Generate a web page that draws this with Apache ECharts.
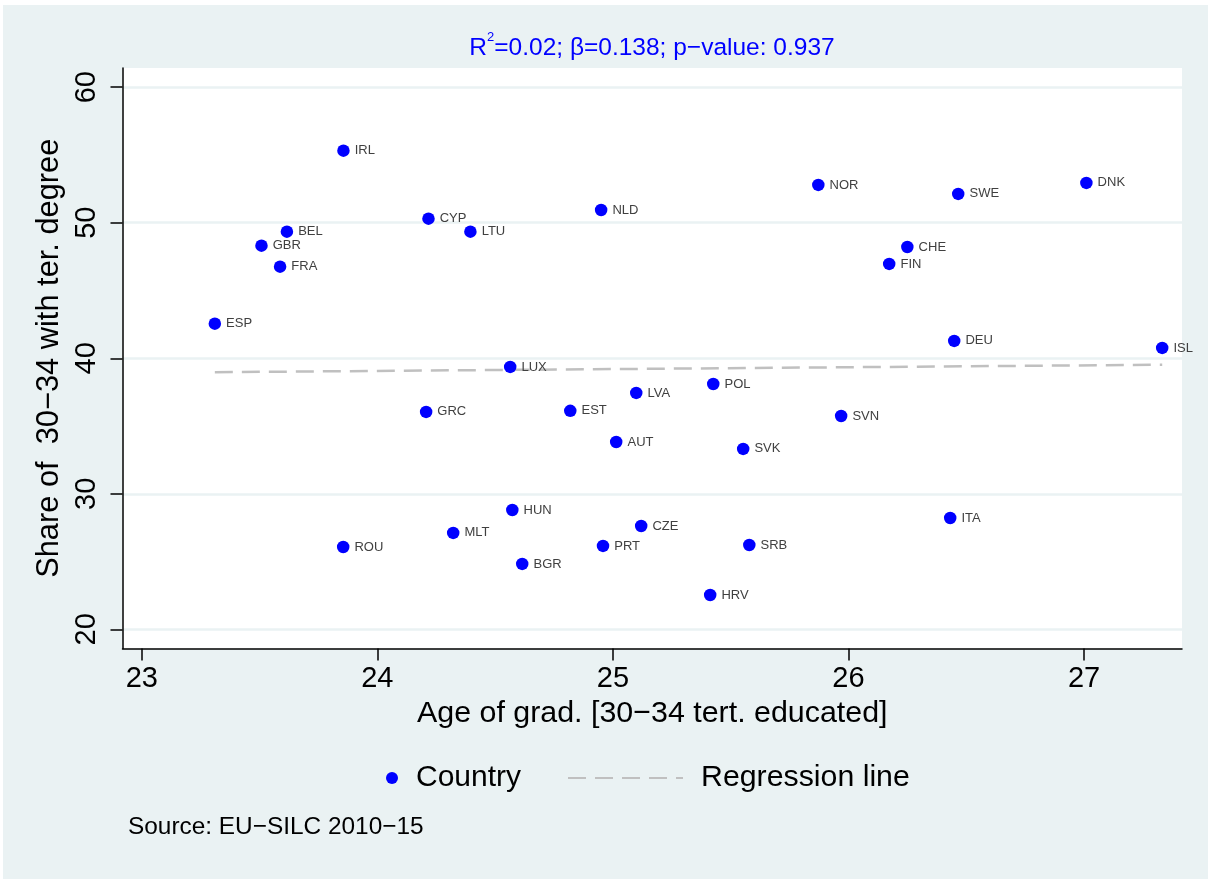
<!DOCTYPE html>
<html>
<head>
<meta charset="utf-8">
<script src="https://cdn.jsdelivr.net/npm/echarts@6/dist/echarts.min.js"></script>
<style>
  html, body { margin: 0; padding: 0; background: #ffffff; }
  #chart { width: 1211px; height: 883px; }
</style>
</head>
<body>
<div id="chart"></div>
<script>
// ---- Data ----
const countries = ['IRL','BEL','GBR','FRA','ESP','CYP','LTU','NLD','NOR','SWE','DNK','CHE','FIN','DEU','ISL','LUX','POL','LVA','GRC','EST','SVN','AUT','SVK','HUN','ITA','CZE','MLT','ROU','PRT','SRB','BGR','HRV'];
const ageGrad = [23.856,23.616,23.508,23.587,23.310,24.217,24.395,24.950,25.872,26.466,27.010,26.250,26.173,26.449,27.332,24.564,25.426,25.099,24.207,24.819,25.969,25.014,25.553,24.573,26.432,25.120,24.322,23.855,24.958,25.579,24.615,25.413];
const shareTert = [55.32,49.34,48.31,46.76,42.55,50.30,49.34,50.94,52.79,52.13,52.94,48.21,46.96,41.28,40.76,39.36,38.10,37.44,36.04,36.12,35.74,33.82,33.31,28.80,28.21,27.62,27.11,26.07,26.15,26.22,24.82,22.53];
const regX = [23.310, 27.332];
const regY = [38.97, 39.52];
const xTicks = [23, 24, 25, 26, 27];
const yTicks = [20, 30, 40, 50, 60];

const FONT = '"Liberation Sans", Arial, Helvetica, sans-serif';
const BG = '#eaf2f3';

const scatterData = countries.map((c, i) => ({ name: c, value: [ageGrad[i], shareTert[i]] }));
const regData = regX.map((x, i) => [x, regY[i]]);

const chart = echarts.init(document.getElementById('chart'), null, { renderer: 'canvas' });
chart.setOption({
  animation: false,
  backgroundColor: '#ffffff',
  textStyle: { fontFamily: FONT },
  graphic: [{
    type: 'rect', z: -100, zlevel: 0, silent: true,
    shape: { x: 3, y: 5, width: 1205, height: 874 },
    style: { fill: BG }
  }],
  title: [{
    left: 652, top: 31, textAlign: 'center', padding: 0,
    text: '{a|R}{s|2}{a|=0.02; β=0.138; p−value: 0.937}',
    textStyle: {
      fontWeight: 'normal',
      rich: {
        a: { fontSize: 24.5, fontWeight: 'normal', color: '#0000ff', fontFamily: FONT, lineHeight: 30, verticalAlign: 'bottom' },
        s: { fontSize: 13, fontWeight: 'normal', color: '#0000ff', fontFamily: FONT, verticalAlign: 'top', lineHeight: 14 }
      }
    }
  }, {
    left: 128, top: 815, padding: 0,
    text: 'Source: EU−SILC 2010−15',
    textStyle: { fontSize: 24.4, fontWeight: 'normal', color: '#000000', fontFamily: FONT }
  }],
  legend: [{
    left: 386, top: 763, padding: 0,
    data: [{ name: 'Country', icon: 'circle' }],
    itemWidth: 12, itemHeight: 12,
    textStyle: { fontSize: 30, color: '#000000', fontFamily: FONT, padding: [0, 0, 0, 13] }
  }, {
    left: 567, top: 763, padding: 0,
    data: [{ name: 'Regression line', itemStyle: { opacity: 0 } }],
    itemWidth: 115, itemHeight: 12,
    textStyle: { fontSize: 30.3, color: '#000000', fontFamily: FONT, padding: [0, 0, 0, 13] }
  }],
  grid: {
    left: 122.5, top: 68, width: 1059.5, height: 580.5,
    show: true, backgroundColor: '#ffffff', borderWidth: 0
  },
  xAxis: {
    type: 'value', min: 22.918, max: 27.416,
    name: 'Age of grad. [30−34 tert. educated]',
    nameLocation: 'middle', nameGap: 48,
    nameTextStyle: { fontSize: 30.4, color: '#000000', fontFamily: FONT },
    axisLine: { show: true, onZero: false, lineStyle: { color: '#000000', width: 1.5 } },
    axisTick: { show: true, length: 12, inside: false, customValues: xTicks, lineStyle: { color: '#000000', width: 1.5 } },
    axisLabel: { customValues: xTicks, fontSize: 29, color: '#000000', margin: 16, fontFamily: FONT },
    splitLine: { show: false }
  },
  yAxis: {
    type: 'value', min: 18.58, max: 61.42,
    name: 'Share of  30−34 with ter. degree',
    nameLocation: 'middle', nameGap: 56, nameRotate: 90,
    nameTextStyle: { fontSize: 30.8, color: '#000000', fontFamily: FONT },
    axisLine: { show: true, onZero: false, lineStyle: { color: '#000000', width: 1.5 } },
    axisTick: { show: true, length: 12, inside: false, customValues: yTicks, lineStyle: { color: '#000000', width: 1.5 } },
    axisLabel: { customValues: yTicks, rotate: 90, fontSize: 29, color: '#000000', margin: 21, fontFamily: FONT },
    splitLine: { show: true, customValues: yTicks, lineStyle: { color: BG, width: 2.5 } }
  },
  series: [{
    name: 'Regression line',
    type: 'line',
    data: regData,
    symbol: 'none',
    showSymbol: false,
    z: 2,
    lineStyle: { color: '#c0c0c0', width: 2.5, type: [18, 9] },
    itemStyle: { color: '#c0c0c0' },
    silent: true
  }, {
    name: 'Country',
    type: 'scatter',
    data: scatterData,
    symbol: 'circle',
    symbolSize: 12.5,
    z: 3,
    itemStyle: { color: '#0000ff', opacity: 1 },
    label: {
      show: true, position: 'right', distance: 5,
      formatter: p => p.name,
      fontSize: 13, color: '#404040', fontFamily: FONT
    }
  }]
});
</script>
</body>
</html>
